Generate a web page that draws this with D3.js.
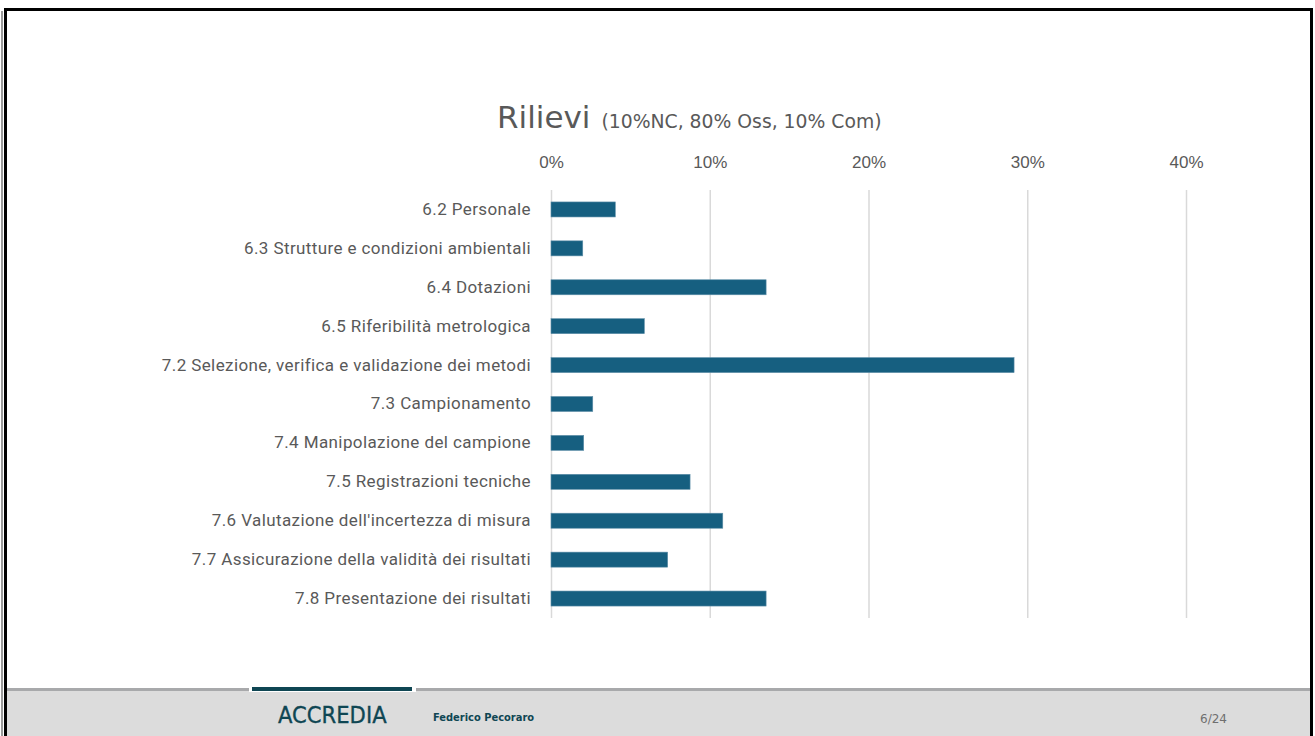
<!DOCTYPE html>
<html>
<head>
<meta charset="utf-8">
<script src="https://cdn.jsdelivr.net/npm/d3@7"></script>
<style>
  body { margin: 0; background: #fff; }
  svg { display: block; }
</style>
</head>
<body>
<div id="chart"></div>
<script>
// data
var categories = [
  "6.2 Personale",
  "6.3 Strutture e condizioni ambientali",
  "6.4 Dotazioni",
  "6.5 Riferibilità metrologica",
  "7.2 Selezione, verifica e validazione dei metodi",
  "7.3 Campionamento",
  "7.4 Manipolazione del campione",
  "7.5 Registrazioni tecniche",
  "7.6 Valutazione dell'incertezza di misura",
  "7.7 Assicurazione della validità dei risultati",
  "7.8 Presentazione dei risultati"
];
var values = [0.0405, 0.020, 0.1355, 0.0588, 0.2917, 0.0263, 0.0206, 0.0876, 0.1082, 0.0735, 0.1355];
var tickValues = [0, 0.1, 0.2, 0.3, 0.4];

var W = 1315, H = 736;
var plot = { left: 551, right: 1186, top: 190, bottom: 618 };

var svg = d3.select("#chart")
  .append("svg")
  .attr("width", W)
  .attr("height", H);

// slide frame
svg.append("rect")
  .attr("x", 0).attr("y", 0).attr("width", W).attr("height", H)
  .attr("fill", "#fff");
svg.append("line")
  .attr("x1", 2).attr("x2", 2).attr("y1", 11).attr("y2", H)
  .attr("stroke", "#9a9a9a").attr("stroke-width", 2);

// footer band
svg.append("rect")
  .attr("x", 5).attr("y", 690).attr("width", 1307).attr("height", 46)
  .attr("fill", "#dcdcdc");
svg.append("rect")
  .attr("x", 5).attr("y", 688).attr("width", 1307).attr("height", 3)
  .attr("fill", "#a8a9ab");
svg.append("rect")
  .attr("x", 249).attr("y", 687).attr("width", 167).attr("height", 5)
  .attr("fill", "#fff");
svg.append("rect")
  .attr("x", 252).attr("y", 687).attr("width", 160).attr("height", 4)
  .attr("fill", "#0f4653");

svg.append("text")
  .attr("x", 278).attr("y", 723)
  .attr("font-family", "'Liberation Sans Narrow', 'DejaVu Sans Condensed', sans-serif")
  .attr("font-size", 23.5)
  .attr("fill", "#0f4653")
  .attr("stroke", "#0f4653")
  .attr("stroke-width", 0.3)
  .text("ACCREDIA");
svg.append("text")
  .attr("x", 433).attr("y", 721)
  .attr("font-family", "'DejaVu Sans Condensed', 'Liberation Sans Narrow', sans-serif")
  .attr("font-size", 11)
  .attr("font-weight", "bold")
  .attr("fill", "#0f4653")
  .text("Federico Pecoraro");
svg.append("text")
  .attr("x", 1200).attr("y", 723)
  .attr("font-family", "'DejaVu Sans', sans-serif")
  .attr("font-size", 12)
  .attr("fill", "#6f6f6f")
  .text("6/24");

// frame border
svg.append("path")
  .attr("d", "M5.5," + H + "V9.5H1311.5V" + H)
  .attr("fill", "none")
  .attr("stroke", "#000")
  .attr("stroke-width", 3);

// title
var title = svg.append("text")
  .attr("x", 497).attr("y", 128)
  .attr("font-family", "'DejaVu Sans', Verdana, sans-serif")
  .attr("fill", "#595959");
title.append("tspan").attr("font-size", 31).text("Rilievi");
title.append("tspan").attr("font-size", 18.8).attr("dx", 11).text("(10%NC, 80% Oss, 10% Com)");

// scales
var x = d3.scaleLinear()
  .domain([0, 0.4])
  .range([plot.left, plot.right]);

var y = d3.scaleBand()
  .domain(categories)
  .range([plot.top, plot.bottom])
  .paddingInner(0.614)
  .paddingOuter(0.307);

// gridlines
var grid = svg.append("g")
  .attr("transform", "translate(0," + plot.top + ")")
  .call(d3.axisBottom(x).tickValues(tickValues).tickSize(plot.bottom - plot.top).tickFormat(""));
grid.select(".domain").remove();
grid.selectAll("line").attr("stroke", "#d9d9d9").attr("stroke-width", 1.5);

// top tick labels
var xAxis = svg.append("g")
  .attr("transform", "translate(0," + plot.top + ")")
  .call(d3.axisTop(x).tickValues(tickValues).tickSize(0).tickPadding(22).tickFormat(d3.format(".0%")));
xAxis.select(".domain").remove();
xAxis.selectAll("text")
  .attr("font-family", "'Liberation Sans', Arial, sans-serif")
  .attr("font-size", 17)
  .attr("fill", "#595959");

// bars
svg.append("g")
  .selectAll("rect")
  .data(values)
  .enter()
  .append("rect")
  .attr("x", x(0))
  .attr("y", function (d, i) { return y(categories[i]); })
  .attr("width", function (d) { return x(d) - x(0); })
  .attr("height", y.bandwidth())
  .attr("fill", "#165f80")
  .attr("stroke", "#5f8fa8")
  .attr("stroke-width", 0.6);

// category labels
var yAxis = svg.append("g")
  .attr("transform", "translate(" + plot.left + ",0)")
  .call(d3.axisLeft(y).tickSize(0).tickPadding(20));
yAxis.select(".domain").remove();
yAxis.selectAll("text")
  .attr("font-family", "Roboto, 'Noto Sans', sans-serif")
  .attr("font-size", 17)
  .attr("letter-spacing", 0.4)
  .attr("fill", "#595959");
</script>
</body>
</html>
